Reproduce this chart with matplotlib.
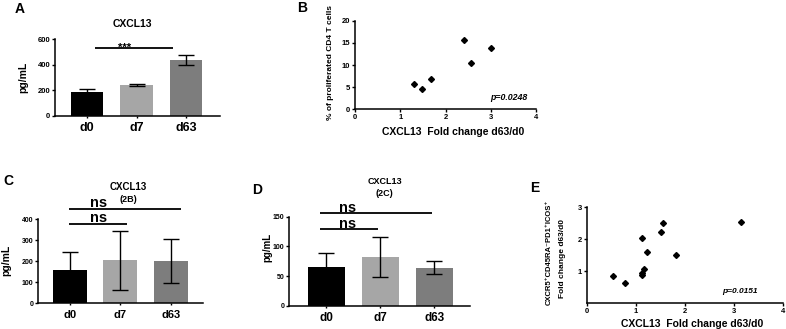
import numpy as np
import matplotlib
matplotlib.use("Agg")
import matplotlib.pyplot as plt

plt.rcParams['font.family'] = ['Liberation Sans', 'DejaVu Sans']
plt.rcParams['font.weight'] = 'bold'

# ---- data ----
days = ['d0', 'd7', 'd63']
bar_colors = ['#000000', '#a6a6a6', '#7d7d7d']

a_mean = [190, 243, 440]
a_err = [18, 8, 38]

b_x = [1.30, 1.48, 1.68, 2.40, 2.57, 3.01]
b_y = [5.6, 4.5, 6.8, 15.6, 10.4, 13.9]

c_mean = [160, 205, 203]
c_err = [85, 140, 104]

d_mean = [66, 82, 64]
d_err = [22, 34, 11]

e_x = [0.53, 0.77, 1.12, 1.12, 1.16, 1.12, 1.22, 1.52, 1.56, 1.82, 3.15]
e_y = [0.85, 0.63, 0.87, 0.93, 1.05, 2.02, 1.58, 2.22, 2.50, 1.50, 2.52]

W, H = 786, 329
fig = plt.figure(figsize=(W / 100, H / 100), dpi=100)


def box(l, t, r, b):
    return [l / W, 1 - b / H, (r - l) / W, (b - t) / H]


def ftext(x, y, s, **kw):
    kw.setdefault('ha', 'center')
    kw.setdefault('va', 'center')
    fig.text(x / W, 1 - y / H, s, **kw)


def style(ax, tick_size=5.5):
    for side in ['top', 'right']:
        ax.spines[side].set_visible(False)
    for side in ['left', 'bottom']:
        ax.spines[side].set_linewidth(1.1)
    ax.tick_params(axis='both', length=2.5, width=1.0, pad=1, labelsize=tick_size)


def bar_panel(ax, mean, err, xlim, ylim, yticks, width, xt_size, yt_size=5.5, capsize=6):
    x = np.arange(len(days))
    ax.bar(x, mean, width=width, color=bar_colors, zorder=2)
    ax.errorbar(x, mean, yerr=err, fmt='none', ecolor='black', elinewidth=1.0,
                capsize=capsize, capthick=1.0, zorder=3)
    ax.set_xlim(*xlim)
    ax.set_ylim(*ylim)
    ax.set_yticks(yticks)
    ax.set_xticks(x)
    ax.set_xticklabels(days)
    style(ax, yt_size)
    ax.tick_params(axis='x', labelsize=xt_size, length=1.5, pad=3)


def sig(ax, x0, x1, y, label, tx, ty, size):
    ax.plot([x0, x1], [y, y], color='black', lw=1.3, clip_on=False, solid_capstyle='butt')
    ax.text(tx, ty, label, ha='center', va='baseline', fontsize=size, fontweight='bold')


# ---- A ----
axA = fig.add_axes(box(55, 39.3, 220, 115.7))
bar_panel(axA, a_mean, a_err, (-0.65, 2.69), (0, 600), [0, 200, 400, 600], 0.65, 9)
sig(axA, 0.16, 1.74, 532, '***', 0.75, 512, 8)
ftext(132, 24, 'CXCL13', fontsize=7.5, fontweight='bold')
ftext(23.5, 77, 'pg/mL', rotation=90, fontsize=7.5, fontweight='bold')
ftext(20, 9, 'A', fontsize=10, fontweight='bold')

# ---- B ----
axB = fig.add_axes(box(355, 20.7, 536, 109.3))
axB.plot(b_x, b_y, 'D', color='black', ms=3.0, ls='none')
axB.set_xlim(0, 4)
axB.set_ylim(0, 20)
axB.set_xticks([0, 1, 2, 3, 4])
axB.set_yticks([0, 5, 10, 15, 20])
style(axB)
axB.text(3.4, 0.13 * 20, 'p=0.0248', ha='center', va='center', fontsize=6.3,
         fontweight='bold', style='italic')
ftext(453, 132, 'CXCL13  Fold change d63/d0', fontsize=7.5, fontweight='bold')
ftext(330, 62, '% of proliferated CD4 T cells', rotation=90, fontsize=6, fontweight='bold')
ftext(302, 8, 'B', fontsize=10, fontweight='bold')

# ---- C ----
axC = fig.add_axes(box(38, 219.3, 203.3, 303.3))
bar_panel(axC, c_mean, c_err, (-0.63, 2.64), (0, 400), [0, 100, 200, 300, 400], 0.67, 8, 5)
sig(axC, -0.01, 2.2, 447.6, 'ns', 0.56, 458, 10.5)
sig(axC, -0.01, 1.13, 376, 'ns', 0.56, 385, 10.5)
ftext(128, 187, 'CXCL13', fontsize=7, fontweight='bold')
ftext(128, 199, '(2B)', fontsize=6.5, fontweight='bold')
ftext(6, 260, 'pg/mL', rotation=90, fontsize=7.5, fontweight='bold')
ftext(8, 181, 'C', fontsize=10, fontweight='bold')

# ---- D ----
axD = fig.add_axes(box(289, 216.7, 470, 305.7))
bar_panel(axD, d_mean, d_err, (-0.69, 2.66), (0, 150), [0, 50, 100, 150], 0.69, 8.5, 5)
sig(axD, -0.12, 1.95, 156.7, 'ns', 0.40, 158.5, 10.5)
sig(axD, -0.12, 0.96, 129.3, 'ns', 0.40, 131, 10.5)
ftext(385, 182, 'CXCL13', fontsize=6.5, fontweight='bold')
ftext(384, 193, '(2C)', fontsize=6.5, fontweight='bold')
ftext(267, 247, 'pg/mL', rotation=90, fontsize=7, fontweight='bold')
ftext(257, 190, 'D', fontsize=10, fontweight='bold')

# ---- E ----
axE = fig.add_axes(box(587, 207, 783, 303))
axE.plot(e_x, e_y, 'D', color='black', ms=3.0, ls='none')
axE.set_xlim(0, 4)
axE.set_ylim(0, 3)
axE.set_xticks([0, 1, 2, 3, 4])
axE.set_yticks([1, 2, 3])
style(axE)
axE.text(3.13, 0.12 * 3, 'p=0.0151', ha='center', va='center', fontsize=6,
         fontweight='bold', style='italic')
ftext(692, 324, 'CXCL13  Fold change d63/d0', fontsize=7.5, fontweight='bold')
ftext(549, 252, 'CXCR5\u207aCD45RA\u207bPD1\u207aICOS\u207a', rotation=90, fontsize=5.5,
      fontweight='bold')
ftext(563, 258, 'Fold change d63/d0', rotation=90, fontsize=6, fontweight='bold')
ftext(535, 188, 'E', fontsize=10, fontweight='bold')

fig.savefig('out.png', dpi=100)
